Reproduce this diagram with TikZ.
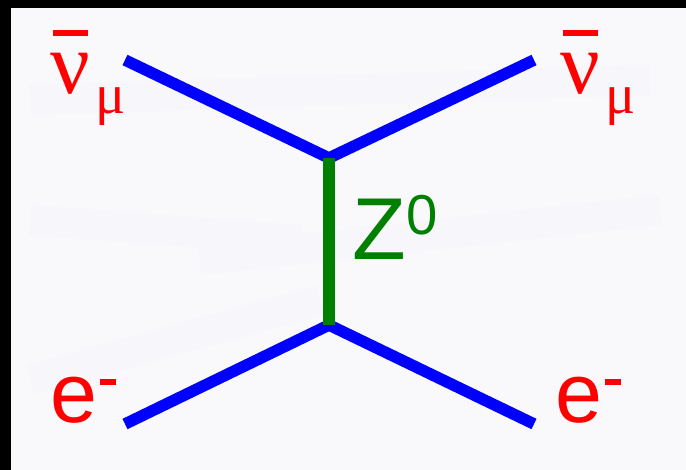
\documentclass[tikz,border=0pt]{standalone}
\usepackage{fontspec}
\setmainfont{Liberation Sans}
\newfontfamily\nufont{Liberation Serif}
\definecolor{paper}{HTML}{F9F9FC}
\definecolor{streak}{HTML}{F6F6FB}
\definecolor{zgreen}{HTML}{008000}
\newcommand{\nubarmu}{\rlap{\raisebox{0.58cm}{\hspace{0.02cm}\rule{0.35cm}{0.06cm}}}{\nufont\fontsize{25}{25}\selectfont ν}\raisebox{-0.2cm}{\fontsize{16}{16}\selectfont\nufont\hspace{0.05cm}μ}}
\newcommand{\eminus}{{\fontsize{24}{24}\selectfont e}\raisebox{0.38cm}{\hspace{0.02cm}\rule{0.16cm}{0.06cm}}}
\tikzset{
  fermion/.style={draw=blue,line width=1.15mm},
  boson/.style={draw=zgreen,line width=1.15mm},
  lbl/.style={inner sep=0pt,anchor=base west,font=\fontsize{25}{25}\selectfont},
}
\begin{document}
\begin{tikzpicture}
  \useasboundingbox (0,0) rectangle (6.86,4.7);
  \fill[black] (0,0) rectangle (6.86,4.7);
  \fill[paper] (0.11,0) rectangle (6.86,4.62);
  \foreach \x/\y/\a/\b in {0.3/3.7/6.5/3.9,0.3/0.9/3.2/1.7,2.0/2.1/6.6/2.6,0.3/2.5/3.0/2.3}
    \draw[streak,line width=3mm] (\x,\y) -- (\a,\b);
  \coordinate (topv) at (3.29,3.12);
  \coordinate (botv) at (3.29,1.45);
  \coordinate (nuin) at (1.25,4.1);
  \coordinate (nuout) at (5.34,4.1);
  \coordinate (ein) at (1.25,0.46);
  \coordinate (eout) at (5.34,0.46);
  \draw[fermion] (nuin) -- (topv) -- (nuout);
  \draw[fermion] (ein) -- (botv) -- (eout);
  \draw[boson] (topv) -- (botv);
  \node[lbl,text=red] (nuleft) at (0.5,3.76) {\nubarmu};
  \node[lbl,text=red] (nuright) at (5.6,3.76) {\nubarmu};
  \node[lbl,text=red] (eleft) at (0.5,0.47) {\eminus};
  \node[lbl,text=red] (eright) at (5.55,0.47) {\eminus};
  \node[lbl,text=zgreen] (zlabel) at (3.52,2.1) {Z\raisebox{0.26cm}{\fontsize{16}{16}\selectfont 0}};
\end{tikzpicture}
\end{document}
